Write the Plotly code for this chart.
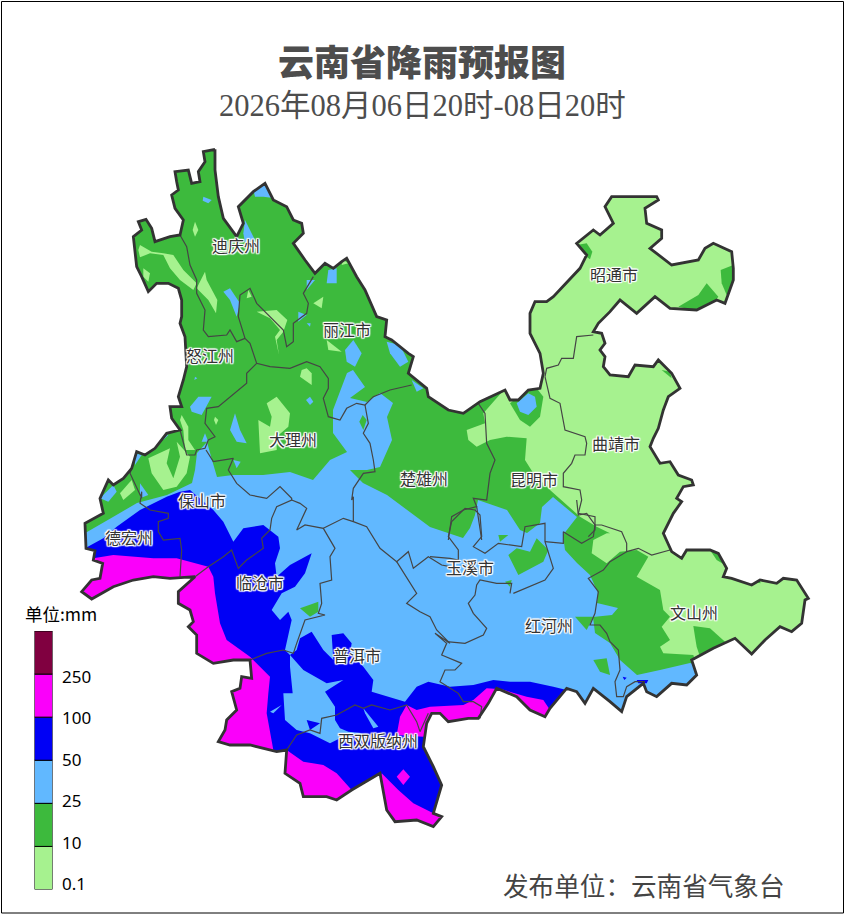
import plotly.graph_objects as go

def t1(*p): return [(80 + x / 3, 140 + y / 3) for x, y in p]
def t2(*p): return [(440 + x / 3, 180 + y / 3) for x, y in p]
def t3(*p): return [(70 + x / 3, 480 + y / 3) for x, y in p]
def t4(*p): return [(430 + x / 3, 500 + y / 3) for x, y in p]

LIGHTGREEN = "#A6F28F"
GREEN = "#3DBA3D"
SKY = "#61B8FF"
BLUE = "#0000F5"
MAGENTA = "#FA00FA"
MAROON = "#800040"

# province border
OUTLINE = (
    t1((405,28),(370,35),(375,65),(355,95),(360,125),(335,130),(325,90),(285,95),(290,125),(295,150),(275,165),(285,205),(310,240),(300,285),
       (270,290),(225,305),(215,265),(198,238),(175,245),(185,270),(160,290),(165,340),(170,380),(185,410),(205,455),(230,430),(265,430),(295,445),
       (305,480),(305,530),(300,550),(315,590),(320,680),(310,720),(295,770),(305,800),(270,800),(275,835),(300,870),(260,880),(225,925),(195,945),
       (170,935),(155,985),(130,1015),(100,1035),(85,1020),(60,1075))
    + t3((100,100),(45,130),(48,205),(75,212),(70,240),(98,250),(90,295),(65,300),(35,335),(65,357),(130,320),(190,300),(250,290),(300,295),(375,290),
         (325,335),(325,370),(360,390),(370,425),(355,440),(380,465),(380,520),(430,550),(490,540),(540,540),(545,595),(515,590),(510,625),(485,635),
         (500,690),(470,720),(465,750),(445,785),(480,795),(540,795),(620,815),(650,810),(645,880),(690,910),(700,950),(770,950),(800,960),(845,930),
         (930,880),(945,960),(950,990),(975,1025),(1040,1020),(1090,1040),(1115,1010),(1090,1000),(1115,915),(1090,860),(1060,800),(1070,730),(1085,700))
    + t4((30,640),(55,665),(115,655),(145,655),(175,610),(200,565),(260,590),(300,630),(345,650),(360,625),(410,565),(440,575),(465,610),(490,565),
         (540,605),(575,635),(590,590),(640,550),(650,575),(680,590),(725,550),(770,555),(800,525),(785,480),(850,445),(915,415),(965,462),(1005,420),
         (1050,380),(1085,395),(1115,370),(1125,300),(1135,295),(1100,240),(1060,235),(1040,250),(990,240),(965,255),(905,235),(880,230),(890,205),
         (865,160),(840,150),(770,150),(755,175),(725,155),(700,100))
    + t2((700,1000),(725,965),(710,955),(730,920),(760,915),(755,900),(715,885),(690,845),(660,850),(630,800),(640,775),(655,745),(670,690),(685,650),
         (720,625),(695,580),(655,540),(640,560),(585,555),(565,590),(510,585),(490,560),(495,530),(480,510),(495,490),(485,460),(460,455),(475,430),
         (510,395),(540,360),(590,400),(645,350),(690,385),(770,390),(830,360),(855,370),(880,300),(880,265),(875,215),(820,190),(795,205),(775,240),
         (695,255),(630,205),(665,175),(665,150),(620,130),(615,85),(655,60),(650,50),(515,50),(495,80),(520,130),(480,165),(460,150),(410,190),(440,225),
         (420,265),(370,320),(340,350),(320,365),(285,365),(270,400),(270,460),(300,520),(310,580),(300,625),(265,630),(235,660),(210,660),(195,630),
         (120,665),(70,700),(25,690))
    + t1((1045,770),(1040,745),(985,700),(1000,650),(985,640),(935,600),(915,590),(920,540),(890,530),(855,450),(830,410),(800,355),(785,365),(760,385),
         (735,370),(705,400),(675,360),(640,310),(670,280),(665,250),(640,240),(620,200),(580,180),(555,130),(520,155),(475,200),(490,250),(470,290),
         (430,235),(415,170),(405,90),(405,28))
)

# prefecture borders
BORDERS = [
    t1((300,285),(320,320),(330,375),(350,420),(350,460),(375,510),(370,570),(385,590),(440,585),(450,570),(470,605),(495,595)),
    t1((495,595),(475,530),(480,465),(510,445),(530,490),(560,520),(610,570),(620,620),(640,605),(640,550),(680,520),(685,490),(670,460),(700,410)),
    t1((495,595),(510,610),(530,670),(570,680),(630,685),(680,665),(720,680),(745,715),(745,745),(730,775),(745,830),(780,840),(800,805),(830,790),(855,795),(880,770),(930,750),(995,735)),
    t1((530,670),(500,700),(500,730),(450,770),(415,800),(380,805),(375,850),(405,890),(385,900),(375,925),(350,930),(345,945),(320,945),(300,870)),
    t1((378,930),(400,965),(460,955),(445,990),(470,1030),(510,1065),(560,1075),(600,1040),(635,1075)) + t3((665,60),(620,80),(605,115),(600,150),(575,175),(580,205),(530,240),(505,265),(485,210),(460,230),(415,260),(375,290)),
    t1((155,985),(150,1000),(185,1075)) + t3((215,35),(210,70),(240,90),(295,100),(295,115),(265,125),(265,155),(280,180),(330,175),(335,210),(330,290)),
    t3((665,60),(690,70),(710,85),(680,150),(705,135),(760,145),(795,205),(780,230),(785,300),(750,310),(755,370),(745,400),(765,405),(705,420),(680,490),(670,520),(640,510),(590,520),(540,540)),
    t3((760,145),(820,115),(850,125),(890,140),(930,205),(980,245),(1015,215),(1030,265),(1075,230),(1115,255),(1140,260)),
    t1((855,795),(865,850),(850,880),(870,910),(880,960),(885,995),(850,1000),(820,1045),(815,1080)) + t3((850,50),(850,125)),
    t3((980,245),(1040,340),(1010,370),(1050,395),(1080,410),(1100,450),(1140,490)) + t4((15,400),(50,430),(35,465),(95,490),(75,510),(45,510),(30,545),(85,580),(100,605),(130,605),(155,620),(150,655)),
    t3((650,810),(680,765),(720,750),(750,760),(755,715),(800,705),(855,675),(880,685),(905,675),(960,690),(1010,675),(1040,725),(1050,755),(1075,700)),
    t4((240,280),(245,250),(200,250),(150,240),(140,255),(135,285),(115,310),(130,340),(170,385),(160,405),(105,430),(50,425)),
    t4((0,170),(60,175),(85,180),(85,150),(55,110),(65,65),(105,25),(135,30),(150,45),(155,110),(130,140),(165,160),(205,130),(275,140),(285,80),(345,70),(345,125),(360,170),(370,205),(345,240),(300,260),(250,280)),
    t4((345,125),(400,130),(400,95),(455,130),(490,110),(495,75),(470,40),(445,45),(440,0)),
    t4((495,75),(515,75),(575,95),(590,130),(590,155),(540,185),(520,210),(475,235),(505,275),(495,340),(480,375),(510,375),(530,400),(540,425),(565,450),(570,510),(555,545),(560,590),(580,590),(590,560),(615,545),(645,545)),
    t4((590,155),(625,145),(665,165),(720,150)),
    t2((115,670),(135,700),(140,790),(165,840),(150,880),(140,960),(100,955),(110,980),(70,990),(35,1010),(25,1080)),
    t2((110,980),(125,1080)),
    t2((315,590),(330,655),(360,670),(375,750),(435,770),(440,790),(435,825),(405,825),(395,850),(370,880),(370,920),(420,930),(425,960),(415,1000),(465,1010),(465,1050),(445,1070)),
    t2((315,590),(320,565),(355,555),(365,535),(400,535),(410,470),(460,465)),
]

# rain bands, painted in this order; the parts that run past the border get masked
GREEN_MAIN = [(60,130),(470,130),(502,392)] + t2((130,700),(135,730),(80,750),(85,780),(110,800),(150,780),(200,770),(260,775),(255,840),(280,880),(330,930),(420,1010),(470,1040),(510,1060)) \
    + t4((530,100),(490,120),(485,160),(530,190),(570,155),(620,150),(655,170),(620,230),(690,270),(700,330),(720,350),(695,380),(720,420),(690,440),(700,460),(790,465),(800,500)) + [(700,720),(60,720)]
GREEN_PATCHES = [
    t4((790,378),(840,385),(890,430),(810,470),(800,440),(795,410)),
    t4((840,150),(870,160),(885,195),(860,180)),
    t4((965,245),(985,228),(992,250)),
    t2((410,195),(440,190),(457,215),(450,238),(425,220)),
    t2((842,270),(880,255),(885,320),(860,345),(845,310)),
    t2((715,380),(775,345),(800,310),(835,350),(820,370),(770,392)),
    t2((665,570),(690,575),(695,595)),
    t2((210,670),(240,720),(270,740),(300,710),(310,650),(290,625),(250,640)),
]
LIGHT_ISLANDS = [
    t1((180,315),(215,335),(250,340),(280,345),(310,390),(350,430),(340,450),(300,420),(270,385),(250,345),(210,340),(180,352),(175,330)),
    t1((345,245),(355,270),(345,290),(338,270)),
    t1((375,395),(380,420),(412,480),(408,520),(385,480),(350,445)),
    t1((190,385),(210,400),(205,425),(190,410)),
    t1((530,515),(590,510),(622,540),(610,575),(590,600),(597,645),(585,590),(600,570),(570,535)),
    t1((505,450),(515,470),(500,475)),
    t1((700,490),(730,470),(725,505)),
    t1((740,600),(785,635),(745,630)),
    t1((680,685),(695,700),(695,735),(660,710),(665,690)),
    t1((590,770),(630,820),(625,860),(590,890),(590,930),(540,940),(535,840),(570,860),(575,830),(560,790)),
    t1((790,360),(805,370),(785,375)),
    t1((405,830),(415,840),(408,855),(402,840)),
    t1((305,825),(325,860),(325,900),(345,930),(315,930),(310,870),(300,840)),
    t1((205,955),(270,925),(260,970),(280,1015),(300,950),(290,905),(330,950),(320,1000),(290,1040),(250,1050),(215,1000)),
    t1((120,1060),(155,1020),(165,1050),(130,1080)),
]
SKY_ISLANDS = [
    t1((520,150),(555,125),(585,175),(550,170),(525,170)),
    t1((370,170),(395,180),(385,190),(368,182)),
    t1((495,240),(510,270),(525,300),(495,310),(490,280)),
    t1((745,390),(770,385),(770,430),(740,430)),
    t1((430,455),(450,445),(480,490),(470,530),(450,480)),
    t1((680,420),(705,420),(680,450)),
    t1((655,515),(680,525),(655,545)),
    t1((680,550),(692,550),(690,560)),
    t1((920,605),(960,615),(985,665),(960,680),(930,640)),
    t1((820,600),(845,640),(825,680),(800,665),(795,630)),
    t1((995,720),(1030,745),(1010,755)),
    t1((355,770),(395,770),(365,825),(335,815),(330,800)),
    t1((465,820),(480,870),(500,910),(470,905),(450,870)),
    t1((345,710),(352,715),(343,720)),
    t1((690,770),(700,785),(690,795),(678,780)),
    t1((460,960),(482,965),(470,985)),
    t1((375,880),(385,905),(365,905)),
    t1((250,880),(265,885),(250,900)),
    t1((165,940),(185,945),(165,975)),
    t1((180,1030),(205,1065),(180,1075)),
    t1((60,1075),(100,1035),(110,1055),(85,1085)),
    t2((265,640),(285,650),(290,680),(265,705),(240,695),(230,670)),
]
SKY_MAIN = [(60,540),(87,532),(113,517),(137,503),(167,495),(192,483),(195,470),(197,453),(207,442),(212,460),(217,477),(233,475),(263,475),(290,472),(313,480),(330,460),(347,452),(333,433),(333,410),(347,373),(353,370),(365,387),(350,398),(367,402),(380,393),(393,403),(387,417),(392,440),(380,467),(367,470),(350,470),(363,483),(387,495),(430,527),(448,533),(463,538),(470,528),(475,515),(478,500),(507,510),(520,530),(527,533),(540,523),(542,507),(553,497),(577,517),(563,535),(565,550),(577,563),(590,575),(598,593),(597,603),(618,608),(612,615),(593,617),(595,633),(610,643),(620,660),(637,675),(660,670),(690,663),(720,670),(720,850),(60,850)]
SKY_GREEN_PATCHES = [
    t1((848,825),(860,840),(850,870),(838,845)),
    t3((690,385),(745,365),(745,395),(720,410)),
    t4((205,105),(235,105),(210,125)),
    t4((235,165),(260,145),(300,155),(320,115),(355,150),(340,185),(265,225)),
    t4((225,245),(245,240),(240,260)),
    t4((355,350),(375,358),(365,362)),
    t4((435,350),(490,350),(470,390)),
    t4((490,480),(530,475),(540,525),(510,515)),
]
BLUE_MAIN = [(60,600),(60,550)] + t3((45,205),(100,175),(140,140),(210,90),(290,50),(330,35),(360,30),(430,90),(460,125),(490,185),(520,145),(580,135),(625,170),(630,205),(615,250),(620,290),(660,255),(725,220),(705,280),(675,320),(635,340),(605,390),(630,420),(655,395),(665,420),(645,510),(660,525),(680,510),(690,475),(725,455),(760,510),(790,540),(785,465),(820,460),(845,490),(840,520),(880,560),(910,600),(905,635),(1005,665),(1040,620),(1075,605),(1140,620)) \
    + t4((130,555),(190,540),(240,545),(300,545),(370,560),(410,570),(420,700)) + [(450,850),(100,850)]
SKY_LAKES = [
    t3((660,525),(700,570),(770,610),(820,600),(765,635),(795,680),(795,720),(810,745),(835,755),(880,760),(810,775),(780,790),(720,760),(680,750),(645,720),(640,640),(668,640),(660,560)),
    t3((880,685),(925,740),(910,745),(885,700)),
    t3((600,695),(635,675),(610,700)),
]
BLUE_SPOTS = [
    t3((710,720),(750,730),(720,750)),
    t4((578,530),(590,533),(583,540)),
    t4((620,540),(655,540),(650,550),(625,550)),
]
MAGENTA_BANDS = [
    t3((70,235),(130,225),(250,235),(320,235),(415,260),(430,290),(435,340),(450,430),(470,480),(540,530),(600,590),(595,640),(590,700),(610,810),(610,830),(400,830),(0,400),(0,235)),
    t3((650,810),(700,845),(760,855),(800,880),(845,930),(800,980),(640,960),(630,810)),
    t3((935,880),(985,930),(1030,970),(1090,1000),(1115,1010),(1110,1060),(960,1050),(930,900)),
    t3((1000,868),(1020,890),(1000,915),(980,890)),
    t3((1010,675),(1040,690)) + t4((0,620),(100,615),(130,600),(170,565),(215,568),(290,590),(340,600),(360,630),(350,680)) + [(450,730)] + t3((1060,770),(980,765),(990,710)),
]

LABEL_TEXT = ["迪庆州", "丽江市", "怒江州", "昭通市", "大理州", "楚雄州", "曲靖市", "昆明市", "保山市", "德宏州", "玉溪市", "临沧市", "红河州", "文山州", "普洱市", "西双版纳州"]
LABEL_X = [236, 347, 210, 614, 293, 424, 616, 534, 202, 129, 470, 260, 549, 694, 357, 378]
LABEL_Y = [248, 332, 358, 277, 442, 481, 446, 482, 503, 540, 570, 585, 628, 615, 658, 743]

LEGEND_BANDS = ["0.1-10", "10-25", "25-50", "50-100", "100-250", ">250"]
LEGEND_COLORS = [LIGHTGREEN, GREEN, SKY, BLUE, MAGENTA, MAROON]
LEGEND_TICKS = ["250", "100", "50", "25", "10", "0.1"]
LEGEND_TICK_Y = [676, 717, 759, 800, 842, 883]

fig = go.Figure()


def add_fill(points, color):
    fig.add_trace(go.Scatter(x=[p[0] for p in points], y=[p[1] for p in points], mode="none",
                             fill="toself", fillcolor=color, hoverinfo="skip", showlegend=False))


def add_line(points, color, width):
    fig.add_trace(go.Scatter(x=[p[0] for p in points], y=[p[1] for p in points], mode="lines",
                             line=dict(color=color, width=width), hoverinfo="skip", showlegend=False))


add_fill(OUTLINE, LIGHTGREEN)
add_fill(GREEN_MAIN, GREEN)
for poly in GREEN_PATCHES:
    add_fill(poly, GREEN)
for poly in LIGHT_ISLANDS:
    add_fill(poly, LIGHTGREEN)
for poly in SKY_ISLANDS:
    add_fill(poly, SKY)
add_fill(SKY_MAIN, SKY)
for poly in SKY_GREEN_PATCHES:
    add_fill(poly, GREEN)
add_fill(BLUE_MAIN, BLUE)
for poly in SKY_LAKES:
    add_fill(poly, SKY)
for poly in BLUE_SPOTS:
    add_fill(poly, BLUE)
for poly in MAGENTA_BANDS:
    add_fill(poly, MAGENTA)

# white page with the province cut out, hides everything past the border
add_fill([(0, 0), (845, 0), (845, 915), (0, 915), (0, 0)] + OUTLINE + [(0, 0)], "white")

for line in BORDERS:
    add_line(line, "#454545", 1.2)
add_line(OUTLINE, "#333333", 2.8)

halo = ",".join(f"{a}px {b}px 1px white" for a in (-1, 0, 1) for b in (-1, 0, 1))
fig.add_trace(go.Scatter(x=LABEL_X, y=LABEL_Y, text=LABEL_TEXT, mode="text", hoverinfo="skip", showlegend=False,
                         textfont=dict(family="Noto Sans CJK SC", size=16, color="#333333", shadow=halo)))

# legend bar
fig.add_trace(go.Bar(x=[1] * 6, y=LEGEND_BANDS, orientation="h", width=1, xaxis="x2", yaxis="y2",
                     marker=dict(color=LEGEND_COLORS, line=dict(color="black", width=1)),
                     hoverinfo="skip", showlegend=False))

for tick, y in zip(LEGEND_TICKS, LEGEND_TICK_Y):
    fig.add_annotation(x=60, y=y, text=tick, showarrow=False, xanchor="left",
                       font=dict(family="Noto Sans, Noto Sans CJK SC", size=17, color="black"))
fig.add_annotation(x=61, y=613, text="单位:mm", showarrow=False,
                   font=dict(family="Noto Sans CJK SC", size=17.5, color="black"))

fig.add_annotation(x=422, y=60, text="云南省降雨预报图", showarrow=False,
                   font=dict(family="Noto Sans CJK SC", size=36, color="#4D4D4D", weight=900))
fig.add_annotation(x=422, y=106, text="2026年08月06日20时-08日20时", showarrow=False,
                   font=dict(family="Liberation Serif, Noto Sans CJK SC", size=30.5, color="#4D4D4D"))
fig.add_annotation(x=644, y=884, text="发布单位：云南省气象台", showarrow=False,
                   font=dict(family="Noto Sans CJK SC", size=25.6, color="#444444"))

fig.update_layout(
    width=845, height=915, margin=dict(l=0, r=0, t=0, b=0),
    paper_bgcolor="white", plot_bgcolor="white",
    xaxis=dict(range=[0, 845], visible=False, domain=[0, 1]),
    yaxis=dict(range=[915, 0], visible=False, domain=[0, 1]),
    xaxis2=dict(range=[0, 1], visible=False, domain=[34.5 / 845, 52.5 / 845], anchor="y2"),
    yaxis2=dict(type="category", categoryorder="array", categoryarray=LEGEND_BANDS, range=[-0.5, 5.5],
                visible=False, domain=[(915 - 889.5) / 915, (915 - 631) / 915], anchor="x2"),
    shapes=[dict(type="rect", xref="paper", yref="paper", x0=1.5 / 845, x1=843.5 / 845,
                 y0=(915 - 913) / 915, y1=(915 - 1.5) / 915, line=dict(color="black", width=1))],
)

fig.write_html("out.html", config={"displayModeBar": False}, post_script="document.body.style.margin='0';")
